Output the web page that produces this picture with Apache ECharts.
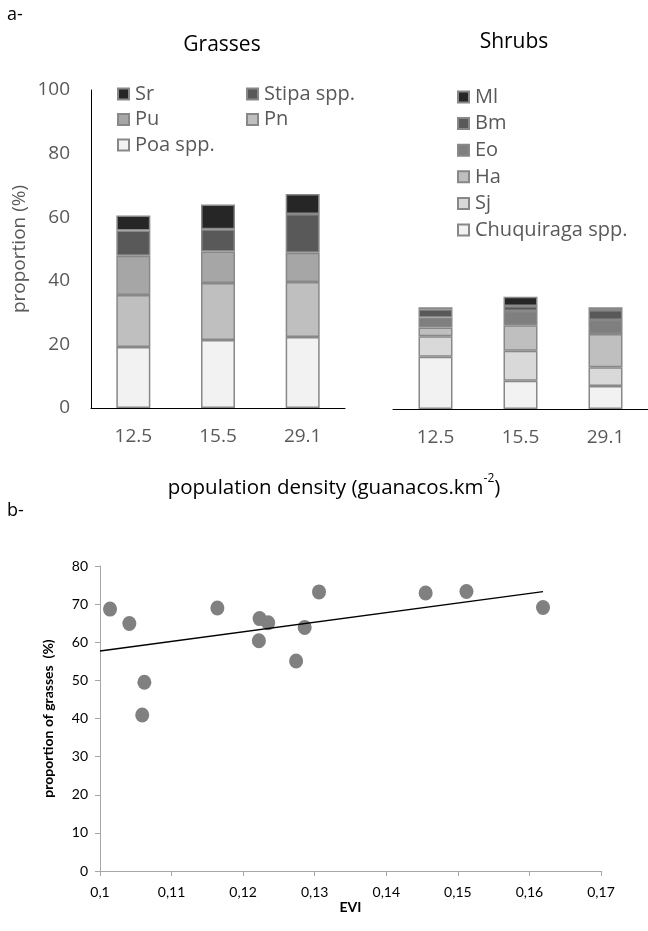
<!DOCTYPE html>
<html>
<head>
<meta charset="utf-8">
<script src="https://cdn.jsdelivr.net/npm/echarts@6/dist/echarts.min.js"></script>
<style>
  html, body { margin: 0; padding: 0; background: #fff; }
  #main { width: 648px; height: 931px; }
</style>
</head>
<body>
<div id="main"></div>
<script>
// densities (guanacos per km2)
const densities = ['12.5', '15.5', '29.1'];

// grasses, bottom to top
const poa = [19.2, 21.4, 22.3];
const pn = [16.3, 17.9, 17.3];
const pu = [12.4, 9.9, 9.2];
const stipa = [7.9, 7.0, 12.2];
const sr = [4.7, 7.8, 6.3];

// shrubs, bottom to top
const chuq = [16.4, 8.9, 7.2];
const sj = [6.5, 9.4, 5.9];
const ha = [2.7, 8.0, 10.5];
const eo = [3.2, 4.5, 4.4];
const bm = [2.6, 1.6, 3.1];
const ml = [0.6, 2.9, 0.9];

// panel b
const evi = [0.1014, 0.1041, 0.1059, 0.1062, 0.1164, 0.1222, 0.1223, 0.1235, 0.1274, 0.1286, 0.1306, 0.1455, 0.1512, 0.1619];
const grassPct = [68.7, 64.9, 40.9, 49.5, 69.0, 60.4, 66.2, 65.1, 55.1, 63.9, 73.2, 72.9, 73.3, 69.1];
const trendX = [0.1, 0.1619];
const trendY = [57.7, 73.3];

const topFont = 'Open Sans';
const botFont = 'Lato';
const grey = '#595959';

const chart = echarts.init(document.getElementById('main'));

function bar(name, data, color, idx, stack) {
    return {
        name: name,
        type: 'bar',
        stack: stack,
        xAxisIndex: idx,
        yAxisIndex: idx,
        data: data,
        barWidth: 34,
        itemStyle: { color: color, borderColor: '#888', borderWidth: 1.5 },
        emphasis: { disabled: true }
    };
}

const legendCommon = {
    orient: 'vertical',
    padding: 0,
    itemWidth: 11,
    itemHeight: 11,
    itemGap: 5.5,
    icon: 'rect',
    selectedMode: false,
    textStyle: { fontFamily: topFont, fontSize: 20, color: grey, lineHeight: 18, padding: [0, 0, 0, 1] }
};

const option = {
    animation: false,
    backgroundColor: '#fff',
    grid: [
        { left: 91, top: 90, width: 254, height: 318 },
        { left: 393, top: 91, width: 255, height: 318 },
        { left: 100, top: 566, width: 501, height: 305 }
    ],
    legend: [
        Object.assign({}, legendCommon, { left: 117, top: 84, data: ['Sr', 'Pu', 'Poa spp.'] }),
        Object.assign({}, legendCommon, { left: 246, top: 84, data: ['Stipa spp.', 'Pn'] }),
        Object.assign({}, legendCommon, { left: 457, top: 87, itemGap: 6.6, data: ['Ml', 'Bm', 'Eo', 'Ha', 'Sj', 'Chuquiraga spp.'] })
    ],
    xAxis: [
        {
            type: 'category', gridIndex: 0, data: densities,
            axisLine: { lineStyle: { color: '#000', width: 1 } },
            axisTick: { show: false },
            axisLabel: { fontFamily: topFont, fontSize: 19, color: grey, margin: 19 }
        },
        {
            type: 'category', gridIndex: 1, data: densities,
            axisLine: { lineStyle: { color: '#000', width: 1 } },
            axisTick: { show: false },
            axisLabel: { fontFamily: topFont, fontSize: 19, color: grey, margin: 19 }
        },
        {
            type: 'value', gridIndex: 2, min: 0.1, max: 0.17, interval: 0.01,
            name: 'EVI', nameLocation: 'middle', nameGap: 29,
            nameTextStyle: { fontFamily: botFont, fontSize: 14, fontWeight: 'bold', color: '#000' },
            axisLine: { lineStyle: { color: '#a6a6a6' } },
            axisTick: { show: true, length: 5, lineStyle: { color: '#a6a6a6' } },
            splitLine: { show: false },
            axisLabel: {
                fontFamily: botFont, fontSize: 14, color: '#000', margin: 14,
                formatter: function (v) { return String(+v.toFixed(2)).replace('.', ','); }
            }
        }
    ],
    yAxis: [
        {
            type: 'value', gridIndex: 0, min: 0, max: 100, interval: 20,
            name: 'proportion (%)', nameLocation: 'middle', nameGap: 62,
            nameTextStyle: { fontFamily: topFont, fontSize: 19, color: grey },
            axisLine: { show: true, lineStyle: { color: '#000', width: 1 } },
            axisTick: { show: false },
            splitLine: { show: false },
            axisLabel: { fontFamily: topFont, fontSize: 19, color: grey, margin: 21 }
        },
        {
            type: 'value', gridIndex: 1, min: 0, max: 100, show: false
        },
        {
            type: 'value', gridIndex: 2, min: 0, max: 80, interval: 10,
            name: 'proportion of grasses  (%)', nameLocation: 'middle', nameGap: 45,
            nameTextStyle: { fontFamily: botFont, fontSize: 14, fontWeight: 'bold', color: '#000' },
            axisLine: { show: true, lineStyle: { color: '#a6a6a6' } },
            axisTick: { show: true, length: 5, lineStyle: { color: '#a6a6a6' } },
            splitLine: { show: false },
            axisLabel: { fontFamily: botFont, fontSize: 14, color: '#000', margin: 12 }
        }
    ],
    series: [
        bar('Poa spp.', poa, '#f2f2f2', 0, 'g'),
        bar('Pn', pn, '#bfbfbf', 0, 'g'),
        bar('Pu', pu, '#a6a6a6', 0, 'g'),
        bar('Stipa spp.', stipa, '#595959', 0, 'g'),
        bar('Sr', sr, '#262626', 0, 'g'),
        bar('Chuquiraga spp.', chuq, '#f2f2f2', 1, 's'),
        bar('Sj', sj, '#d9d9d9', 1, 's'),
        bar('Ha', ha, '#bfbfbf', 1, 's'),
        bar('Eo', eo, '#7f7f7f', 1, 's'),
        bar('Bm', bm, '#595959', 1, 's'),
        bar('Ml', ml, '#262626', 1, 's'),
        {
            type: 'scatter', xAxisIndex: 2, yAxisIndex: 2,
            data: evi.map((x, i) => [x, grassPct[i]]),
            symbol: 'circle', symbolSize: [14, 15],
            itemStyle: { color: '#808080', opacity: 1 }
        },
        {
            type: 'line', xAxisIndex: 2, yAxisIndex: 2,
            data: trendX.map((x, i) => [x, trendY[i]]),
            showSymbol: false, symbol: 'none',
            lineStyle: { color: '#000', width: 1.3 }
        }
    ],
    graphic: [
        { type: 'text', x: 7, y: 15, style: { text: 'a-', fontFamily: topFont, fontSize: 18, fill: '#000', align: 'left', verticalAlign: 'middle' } },
        { type: 'text', x: 7, y: 511, style: { text: 'b-', fontFamily: topFont, fontSize: 18, fill: '#000', align: 'left', verticalAlign: 'middle' } },
        { type: 'text', x: 222, y: 45, style: { text: 'Grasses', fontFamily: topFont, fontSize: 21, fill: '#000', align: 'center', verticalAlign: 'middle' } },
        { type: 'text', x: 514, y: 42, style: { text: 'Shrubs', fontFamily: topFont, fontSize: 21, fill: '#000', align: 'center', verticalAlign: 'middle' } },
        {
            type: 'text', x: 334, y: 486,
            style: {
                text: '{m|population density (guanacos.km}{s|-2}{m|)}',
                align: 'center', verticalAlign: 'middle', fill: '#000',
                rich: {
                    m: { fontFamily: topFont, fontSize: 20.5, lineHeight: 26, verticalAlign: 'bottom', fill: '#000' },
                    s: { fontFamily: topFont, fontSize: 12, lineHeight: 26, verticalAlign: 'top', fill: '#000' }
                }
            }
        }
    ]
};

chart.setOption(option);
</script>
</body>
</html>
